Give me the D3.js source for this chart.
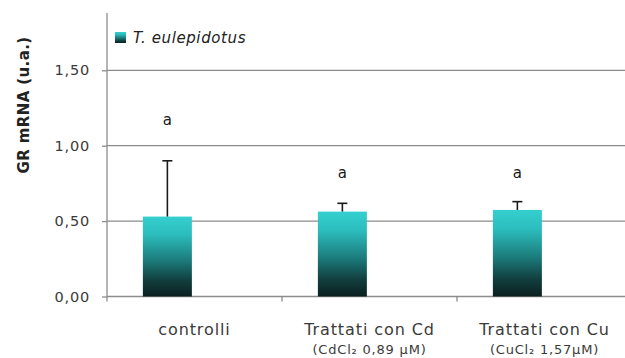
<!DOCTYPE html>
<html>
<head>
<meta charset="utf-8">
<script src="https://cdn.jsdelivr.net/npm/d3@7"></script>
<style>
  html, body { margin: 0; padding: 0; background: #fff; }
  svg { display: block; }
</style>
</head>
<body>
<svg id="chart" width="625" height="358"></svg>
<script>
// ---- data ----
const categories = ["controlli", "Trattati con Cd", "Trattati con Cu"];
const subLabels = ["", "(CdCl\u2082 0,89 \u00b5M)", "(CuCl\u2082 1,57\u00b5M)"];
const seriesName = "T. eulepidotus";
const means = [0.53, 0.563, 0.574];
const errors = [0.37, 0.055, 0.055];
const sigLetters = ["a", "a", "a"];
const sigLetterY = [1.17, 0.82, 0.82];
const yTicks = [0, 0.5, 1.0, 1.5];
const yTitle = "GR mRNA (u.a.)";

// ---- layout ----
const svg = d3.select("#chart");
const mLeft = 107, mRight = 632, mTop = 13, mBottom = 296.5;
const yMax = 1.88;

const x = d3.scaleBand().domain(categories).range([mLeft, mRight]).padding(0);
const y = d3.scaleLinear().domain([0, yMax]).range([mBottom, mTop]);
const barOff = 0.205, barW = 0.28;

const itLocale = d3.formatLocale({decimal: ",", thousands: ".", grouping: [3], currency: ["\u20ac", ""]});
const fmt = itLocale.format(".2f");

// gradient
const defs = svg.append("defs");
const grad = defs.append("linearGradient").attr("id", "barGrad")
  .attr("x1", 0).attr("y1", 0).attr("x2", 0).attr("y2", 1);
[[0, "#35cfcf"], [0.22, "#2cbdbd"], [0.55, "#1c7b7b"], [0.8, "#123e3e"], [1, "#0b2020"]]
  .forEach(([o, c]) => grad.append("stop").attr("offset", o).attr("stop-color", c));

const gridColor = "#8c8c8c";

// gridlines
svg.append("g").selectAll("line").data(yTicks.filter(d => d > 0)).join("line")
  .attr("x1", mLeft).attr("x2", 625)
  .attr("y1", d => y(d)).attr("y2", d => y(d))
  .attr("stroke", gridColor).attr("stroke-width", 1.3);

// y axis
const yAxis = d3.axisLeft(y).tickValues(yTicks).tickFormat(fmt).tickSize(5).tickPadding(12);
const gy = svg.append("g").attr("transform", `translate(${mLeft},0)`).call(yAxis);
gy.select(".domain").attr("stroke", gridColor).attr("stroke-width", 1.3).attr("d", `M0,${mTop}V${mBottom}`);
gy.selectAll(".tick line").attr("stroke", gridColor).attr("stroke-width", 1.3);
gy.selectAll(".tick text").attr("font-family", "DejaVu Sans").attr("font-size", 14.5)
  .attr("letter-spacing", 0.8).attr("fill", "#3a3a3a");

// x axis
const xAxis = d3.axisBottom(x).tickSize(0).tickFormat("");
const gx = svg.append("g").attr("transform", `translate(0,${mBottom})`).call(xAxis);
gx.selectAll(".tick").remove();
gx.select(".domain").attr("stroke", gridColor).attr("stroke-width", 1.3).attr("d", `M${mLeft},0H625`);
gx.selectAll("line.bnd").data(categories).join("line").attr("class", "bnd")
  .attr("x1", d => x(d)).attr("x2", d => x(d)).attr("y1", 0).attr("y2", 5)
  .attr("stroke", gridColor).attr("stroke-width", 1.3);

// category labels
const lab = svg.append("g");
lab.selectAll("text.cat").data(categories).join("text").attr("class", "cat")
  .attr("x", d => x(d) + x.bandwidth() / 2).attr("y", 335)
  .attr("text-anchor", "middle").attr("font-family", "DejaVu Sans").attr("font-size", 16)
  .attr("letter-spacing", 0.9).attr("fill", "#3a3a3a").text(d => d);
lab.selectAll("text.sub").data(categories).join("text").attr("class", "sub")
  .attr("x", d => x(d) + x.bandwidth() / 2).attr("y", 354)
  .attr("text-anchor", "middle").attr("font-family", "DejaVu Sans").attr("font-size", 13)
  .attr("letter-spacing", 0.8).attr("fill", "#3a3a3a").text((d, i) => subLabels[i]);

// bars
const bars = svg.append("g");
bars.selectAll("rect").data(categories).join("rect")
  .attr("x", d => x(d) + x.bandwidth() * barOff)
  .attr("width", x.bandwidth() * barW)
  .attr("y", (d, i) => y(means[i]))
  .attr("height", (d, i) => y(0) - y(means[i]))
  .attr("fill", "url(#barGrad)");

// error bars
const eb = svg.append("g").attr("stroke", "#1a1a1a").attr("stroke-width", 1.6);
const cx = d => x(d) + x.bandwidth() * (barOff + barW / 2);
eb.selectAll("line.v").data(categories).join("line").attr("class", "v")
  .attr("x1", cx).attr("x2", cx)
  .attr("y1", (d, i) => y(means[i])).attr("y2", (d, i) => y(means[i] + errors[i]));
eb.selectAll("line.h").data(categories).join("line").attr("class", "h")
  .attr("x1", d => cx(d) - 5).attr("x2", d => cx(d) + 5)
  .attr("y1", (d, i) => y(means[i] + errors[i])).attr("y2", (d, i) => y(means[i] + errors[i]));

// significance letters
svg.append("g").selectAll("text").data(categories).join("text")
  .attr("x", cx).attr("y", (d, i) => y(sigLetterY[i])).attr("dy", "0.35em")
  .attr("text-anchor", "middle").attr("font-family", "DejaVu Sans").attr("font-size", 15)
  .attr("fill", "#1a1a1a").text((d, i) => sigLetters[i]);

// y title
svg.append("text").attr("transform", `translate(29,105) rotate(-90)`)
  .attr("text-anchor", "middle").attr("font-family", "DejaVu Sans").attr("font-weight", "bold")
  .attr("font-size", 15).attr("letter-spacing", 0.4).attr("fill", "#222").text(yTitle);

// legend
const lg = svg.append("g").attr("transform", "translate(115,32)");
lg.append("rect").attr("width", 11).attr("height", 11).attr("fill", "url(#barGrad)");
lg.append("text").attr("x", 18).attr("y", 11).attr("font-family", "DejaVu Sans")
  .attr("font-style", "italic").attr("font-size", 15).attr("letter-spacing", 0.6)
  .attr("fill", "#222").text(seriesName);
</script>
</body>
</html>
